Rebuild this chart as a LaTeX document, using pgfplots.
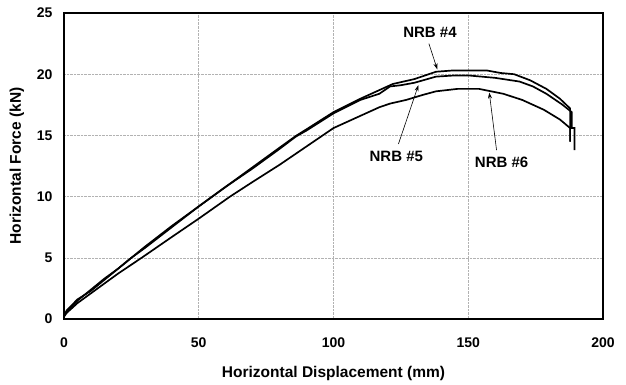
\documentclass[border=0pt]{standalone}
\usepackage{fontspec}
\setmainfont{Liberation Sans}
\usepackage{pgfplots}
\pgfplotsset{compat=1.18}
\usetikzlibrary{arrows.meta}
\begin{document}
\begin{tikzpicture}
\begin{axis}[
  scale only axis, width=539bp, height=306bp,
  xmin=0, xmax=200, ymin=0, ymax=25,
  xtick={0,50,...,200}, ytick={0,5,...,25},
  major tick length=0pt,
  axis line style={line width=1.6pt},
  grid=major,
  major grid style={densely dotted, gray!60, line width=0.6pt},
  tick label style={font=\fontsize{14bp}{16bp}\selectfont\bfseries},
  /pgf/number format/assume math mode=true,
  xticklabel style={yshift=-15bp},
  yticklabel style={xshift=-8bp},
  label style={font=\fontsize{15.5bp}{18bp}\selectfont\bfseries},
  xlabel={Horizontal Displacement (mm)},
  ylabel={Horizontal Force (kN)},
  xlabel style={yshift=-12bp},
  ylabel style={yshift=6bp},
  clip=false,
]
\addplot[black, line width=1.7pt] coordinates {
(0,0.2)(1,0.6)(5,1.5)(10,2.4)(15,3.3)(20,4.1)(25,5.0)(30,5.9)(40,7.6)(50,9.2)(55,10.0)(60,10.8)(70,12.4)(80,14.0)(86,14.95)(90,15.5)(100,16.9)(110,18.0)(117,18.7)(122,19.2)(130,19.6)(138,20.2)(144,20.3)(150,20.3)(157,20.3)(162,20.1)(167,20.0)(173,19.5)(179,18.8)(184,18.0)(187.8,17.2)(187.8,14.5)};
\addplot[black, line width=1.7pt] coordinates {
(0,0.3)(1,0.7)(5,1.6)(10,2.3)(15,3.2)(20,4.1)(25,5.0)(30,5.8)(40,7.5)(50,9.2)(55,10.0)(60,10.8)(70,12.3)(80,13.9)(86,14.9)(90,15.4)(100,16.8)(110,17.9)(117,18.4)(121,19.0)(125,19.1)(130,19.3)(138,19.8)(145,19.9)(150,19.9)(155,19.8)(160,19.7)(169,19.4)(174,19.0)(179,18.4)(185,17.5)(188.4,16.9)(188.4,15.6)(189.4,15.6)(189.4,13.8)};
\addplot[black, line width=1.7pt] coordinates {
(0,0.2)(1,0.5)(5,1.3)(10,2.1)(20,3.7)(28.8,5.0)(40,6.7)(50,8.2)(61.6,10.0)(70,11.2)(80,12.6)(90,14.1)(96,15.0)(100,15.6)(110,16.6)(117,17.3)(121,17.6)(127,17.9)(133,18.3)(138,18.6)(146,18.8)(154,18.8)(163,18.4)(170,17.9)(178,17.1)(184,16.3)(187.8,15.6)(187.8,14.5)};
\node[font=\fontsize{15bp}{17bp}\selectfont\bfseries] at (axis cs:135.8,23.4) {NRB \#4};
\node[font=\fontsize{15bp}{17bp}\selectfont\bfseries] at (axis cs:123.3,13.3) {NRB \#5};
\node[font=\fontsize{15bp}{17bp}\selectfont\bfseries] at (axis cs:162.4,12.8) {NRB \#6};
\draw[-{Stealth[length=6bp,width=4bp]}, line width=0.6pt] (axis cs:135.4,22.5) -- (axis cs:138.5,20.4);
\draw[-{Stealth[length=6bp,width=4bp]}, line width=0.6pt] (axis cs:124.1,14.3) -- (axis cs:131.5,19.1);
\draw[-{Stealth[length=6bp,width=4bp]}, line width=0.6pt] (axis cs:160.5,13.8) -- (axis cs:157.8,18.5);
\end{axis}
\path (current axis.south west) ++(-64bp,-66bp) rectangle ++(626bp,385bp);
\end{tikzpicture}
\end{document}
